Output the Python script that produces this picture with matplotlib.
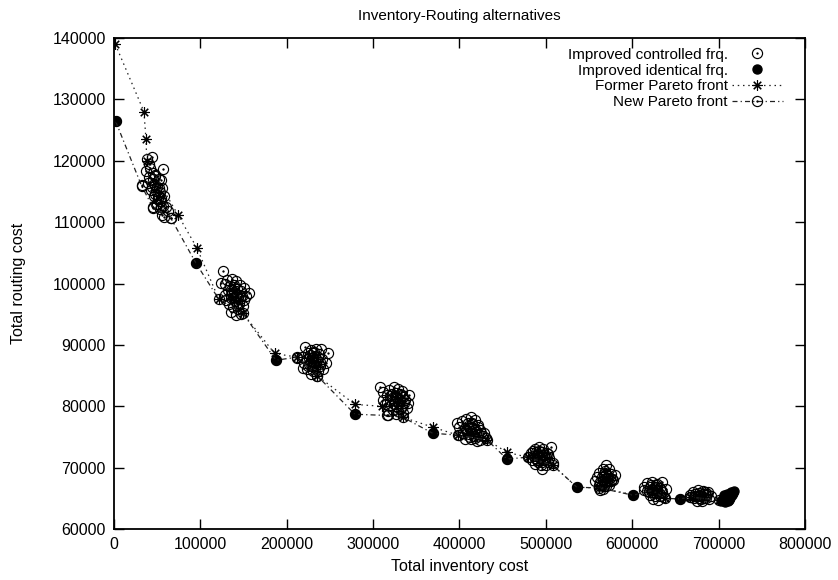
import matplotlib
matplotlib.use('Agg')
import matplotlib.pyplot as plt
from matplotlib.legend_handler import HandlerTuple

plt.rcParams['font.family'] = ['Liberation Sans', 'DejaVu Sans']

# Improved controlled frq. (open circles), one list per cluster
ctrl_x = [
    # cluster ~45k
    38000, 44000, 40000, 42000, 57000, 37000, 45000, 48000, 41000, 52000, 55000, 33000,
    39000, 46000, 50000, 56000, 43000, 53000, 47000, 58000, 51000, 55000, 49000, 57000,
    60000, 53000, 45000, 62000, 56000, 66000, 58000,
    45000, 47000, 49000, 51000, 52000, 48000, 54000, 50000, 44000, 46000, 53000, 55000,
    # cluster ~140k
    126000, 131000, 137000, 141000, 128000, 134000, 139000, 146000, 124000, 150000, 156000,
    132000, 137000, 143000, 148000, 129000, 135000, 140000, 145000, 151000, 133000, 138000,
    144000, 149000, 136000, 141000, 147000, 130000, 153000,
    136000, 139000, 142000, 144000, 138000, 141000, 143000, 146000, 139000, 135000, 147000, 142000,
    # cluster ~230k
    221000, 228000, 234000, 240000, 225000, 231000, 237000, 248000, 212000, 218000, 223000,
    229000, 235000, 241000, 246000, 220000, 226000, 232000, 238000, 219000, 224000, 230000,
    236000, 242000, 228000, 235000, 233000, 227000,
    228000, 231000, 234000, 230000, 236000, 233000, 229000, 239000, 226000, 232000, 237000, 225000,
    # cluster ~325k
    308000, 312000, 318000, 324000, 329000, 334000, 316000, 322000, 327000, 333000, 341000,
    311000, 319000, 325000, 331000, 337000, 314000, 321000, 327000, 333000, 339000, 317000,
    323000, 329000, 335000, 317000, 326000, 340000,
    322000, 325000, 328000, 330000, 324000, 331000, 336000, 320000, 326000, 332000, 335000, 328000,
    # cluster ~412k
    408000, 413000, 418000, 397000, 403000, 410000, 415000, 421000, 400000, 406000, 412000,
    418000, 424000, 404000, 409000, 415000, 421000, 427000, 431000, 406000, 412000, 418000,
    424000, 420000, 400000, 428000,
    410000, 413000, 416000, 419000, 411000, 414000, 408000, 422000, 417000, 425000, 413000,
    # cluster ~495k
    487000, 492000, 497000, 506000, 483000, 489000, 495000, 501000, 480000, 486000, 492000,
    498000, 504000, 484000, 490000, 496000, 502000, 508000, 488000, 494000, 500000, 495000,
    491000, 499000,
    490000, 493000, 496000, 492000, 487000, 498000, 495000, 491000, 500000, 485000, 503000,
    # cluster ~568k
    570000, 566000, 573000, 562000, 568000, 575000, 580000, 559000, 565000, 571000, 577000,
    557000, 563000, 569000, 575000, 561000, 567000, 573000, 563000, 566000, 578000,
    567000, 570000, 566000, 572000, 568000, 571000, 565000, 574000, 569000, 570000,
    # cluster ~626k
    617000, 623000, 629000, 634000, 614000, 620000, 626000, 632000, 639000, 617000, 623000,
    629000, 635000, 620000, 626000, 632000, 637000, 624000, 630000, 614000,
    623000, 626000, 629000, 631000, 625000, 622000, 628000, 633000, 619000, 627000,
    # cluster ~678k
    670000, 676000, 682000, 688000, 667000, 673000, 679000, 685000, 691000, 671000, 677000,
    683000, 689000, 675000, 681000, 668000,
    676000, 679000, 682000, 685000, 673000, 680000, 687000, 677000, 684000,
]
ctrl_y = [
    120300, 120600, 119500, 118800, 118700, 118400, 118000, 117600, 117300, 117000, 116800, 116000,
    116300, 116200, 115800, 115500, 115300, 114900, 114600, 114300, 113900, 113400, 113000, 112700,
    112400, 112100, 112300, 111800, 111200, 110700, 110900,
    117000, 116000, 115000, 114500, 115500, 117500, 114000, 113000, 115800, 114200, 113500, 112500,
    102100, 100500, 100700, 100400, 99900, 99600, 99800, 99700, 100100, 99200, 98500,
    98900, 98500, 98200, 98000, 98200, 97600, 97200, 96900, 97300, 96700, 96200,
    95900, 96300, 95300, 94900, 95100, 97300, 97900,
    99000, 98600, 99100, 97800, 97600, 97900, 96800, 97500, 99500, 98200, 98800, 96300,
    89600, 89200, 89400, 89300, 88700, 88600, 88500, 88600, 87800, 88100, 87700,
    87900, 87600, 87700, 87000, 87100, 86900, 86700, 86500, 86200, 86000, 85800,
    85700, 86100, 85300, 84900, 88200, 88300,
    87300, 87200, 87000, 88000, 88000, 86300, 86500, 87200, 87800, 88900, 86900, 86600,
    83100, 82300, 82600, 83200, 82800, 82500, 81800, 82000, 81700, 81800, 81800,
    81000, 81100, 80900, 81000, 81100, 80300, 80200, 80000, 80100, 79700, 79300,
    79400, 79200, 78900, 78600, 78700, 80600,
    81300, 81600, 81400, 80600, 80400, 82000, 80500, 81700, 82200, 79700, 81500, 79800,
    78000, 78300, 77800, 77200, 77600, 77300, 77100, 76900, 76600, 76400, 76500,
    76300, 76100, 75700, 75900, 75600, 75500, 75200, 74900, 74700, 75000, 74800,
    74500, 74300, 75300, 75600,
    76800, 76000, 76400, 75800, 75400, 77300, 76100, 76600, 75200, 75700, 74600,
    73000, 73300, 73100, 73300, 72400, 72500, 72600, 72400, 71800, 71900, 71900,
    72000, 71600, 71200, 71300, 71200, 71000, 70700, 70600, 70500, 70400, 69800,
    72200, 71500,
    72000, 71600, 72000, 72700, 71500, 71300, 70900, 70900, 71800, 72700, 72200,
    70500, 69800, 69700, 69200, 69100, 69000, 68800, 68500, 68400, 68300, 68200,
    67900, 67700, 67600, 67800, 67100, 67000, 67200, 66400, 66600, 68000,
    68700, 68900, 68000, 68600, 67400, 67800, 67200, 68300, 69500, 67000,
    67500, 67600, 67400, 67700, 66900, 66800, 66900, 66700, 66600, 66200, 66100,
    66300, 66000, 65500, 65400, 65300, 65200, 64900, 64800, 66400,
    66500, 66400, 66800, 65900, 65800, 67100, 65800, 66400, 66000, 67200,
    66100, 66300, 66200, 66000, 65500, 65700, 65600, 65500, 65400, 65000, 65100,
    65000, 64900, 64500, 64600, 65200,
    65400, 65300, 65700, 65100, 65300, 64900, 65700, 65900, 66100,
]

# Improved identical frq. (filled dots)
ident_x = [2000, 95000, 187500, 279000, 369000, 455000, 536000, 601000, 655000,
           703000, 707000, 711000, 705000, 709000, 713000, 716000, 710000, 714000,
           718000, 706000, 712000, 717000]
ident_y = [126400, 103300, 87500, 78700, 75600, 71400, 66800, 65500, 64900,
           64600, 64400, 64500, 65000, 65200, 65100, 65500, 65700, 66000,
           66200, 65600, 64800, 65800]

# Former Pareto front
former_x = [1500, 34700, 37000, 38000, 74000, 96000, 121500, 149000, 186000, 212000,
            235000, 279000, 310000, 334500, 369000, 398000, 432000, 455000, 479000,
            508000, 536000, 562000, 601000, 623000, 638000, 655000, 667000, 701000]
former_y = [139000, 128000, 123600, 120000, 111200, 105800, 97400, 95200, 88600, 88000,
            85000, 80300, 80000, 78200, 76600, 75300, 74500, 72500, 71700,
            70400, 66800, 66700, 65600, 66300, 65000, 64900, 65200, 64700]

# New Pareto front
new_x = [2000, 32000, 45000, 66000, 95000, 121500, 149000, 187500, 212000, 235000,
         279000, 316000, 334500, 369000, 398000, 432000, 455000, 479000, 508000,
         536000, 562000, 601000, 623000, 638000, 655000, 667000, 701000]
new_y = [126400, 115900, 112400, 110600, 103300, 97400, 95200, 87500, 88000, 85000,
         78700, 78500, 78200, 75600, 75300, 74500, 71400, 71700, 70400,
         66800, 66700, 65500, 66300, 65000, 64900, 65200, 64700]

fig = plt.figure(figsize=(8.38, 5.80), dpi=100)
ax = fig.add_axes([0.136, 0.0879, 0.8246, 0.8466])

fs = 11.5
ring = dict(marker='o', ms=7.3, mfc='none', mec='black', mew=0.85)
pip = dict(marker='o', ms=1.3, mfc='black', mec='black', mew=0.3, ls='none')

c1, = ax.plot(ctrl_x, ctrl_y, ls='none', **ring)
c2, = ax.plot(ctrl_x, ctrl_y, **pip)
f1, = ax.plot(ident_x, ident_y, marker='o', ms=6.5, color='black', ls='none')
l1, = ax.plot(former_x, former_y, color='#222222', lw=0.9, ls=(0, (1.2, 3)),
              marker=(8, 2, 0), ms=7.5, mew=0.8, mec='black')
l2, = ax.plot(new_x, new_y, color='#222222', lw=0.9, ls=(0, (4, 2.5, 1, 2.5)), **ring)
l2b, = ax.plot(new_x, new_y, **pip)

ax.set_xlim(0, 800000)
ax.set_ylim(60000, 140000)
ax.set_xticks(range(0, 800001, 100000))
ax.set_yticks(range(60000, 140001, 10000))
ax.tick_params(direction='in', length=7, width=1, top=True, right=True,
               labelsize=fs, pad=6, colors='black')
for s in ax.spines.values():
    s.set_linewidth(1.3)

ax.set_title('Inventory-Routing alternatives', fontsize=11, pad=13)
ax.set_xlabel('Total inventory cost', fontsize=fs, labelpad=5)
ax.set_ylabel('Total routing cost', fontsize=fs, labelpad=19)

leg = ax.legend([(c1, c2), f1, l1, (l2, l2b)],
                ['Improved controlled frq.', 'Improved identical frq.',
                 'Former Pareto front', 'New Pareto front'],
                handler_map={tuple: HandlerTuple(ndivide=1)},
                loc='upper right', bbox_to_anchor=(0.983, 1.002), frameon=False,
                markerfirst=False, fontsize=11, labelspacing=0.12,
                handlelength=3.3, handletextpad=0.3, borderpad=0.2)

fig.savefig('out.png', dpi=100)
